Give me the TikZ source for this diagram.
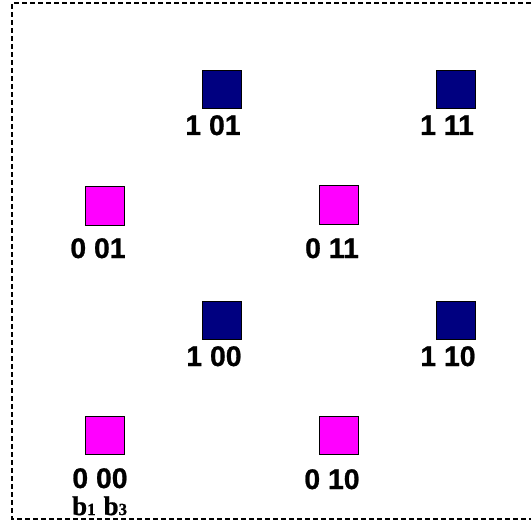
\documentclass[tikz,border=0pt]{standalone}
\usepackage{fontspec}
\setmainfont{Liberation Sans}[BoldFeatures={FakeBold=0.8}]
\newfontfamily\serifb{Liberation Serif}[BoldFeatures={FakeBold=1}]
\definecolor{pinkc}{HTML}{FF00FF}
\definecolor{navyc}{HTML}{000080}
\begin{document}
\begin{tikzpicture}[x=1bp,y=-1bp,
  sq/.style={draw=black, line width=1bp, minimum width=39bp, minimum height=38bp, inner sep=0pt, anchor=north west},
  pinksq/.style={sq, fill=pinkc},
  bluesq/.style={sq, fill=navyc},
  lab/.style={font=\bfseries\fontsize{28.5}{28.5}\selectfont, inner sep=0pt, anchor=base, text depth=0pt, text height=20bp},
  frame/.style={line width=1.6bp, dash pattern=on 5bp off 3bp}]
\useasboundingbox (0,0) rectangle (531,525);
\draw[frame] (531,3) -- (12,3) -- (12,519) -- (531,519);
% squares
\node[bluesq] (s101) at (201.5,70.5) {};
\node[bluesq] (s111) at (435.5,70.5) {};
\node[pinksq] (s001) at (84.5,186.5) {};
\node[pinksq] (s011) at (318.5,185.5) {};
\node[bluesq] (s100) at (201.5,300.5) {};
\node[bluesq] (s110) at (435.5,300.5) {};
\node[pinksq] (s000) at (84.5,415.5) {};
\node[pinksq] (s010) at (318.5,415.5) {};
% labels
\node[lab] (l101) at (213,135) {1 01};
\node[lab] (l111) at (447,135) {1 11};
\node[lab] (l001) at (98,258) {0 01};
\node[lab] (l011) at (332,258) {0 11};
\node[lab] (l100) at (214,366) {1 00};
\node[lab] (l110) at (448,366) {1 10};
\node[lab] (l000) at (100,488) {0 00};
\node[lab] (l010) at (332,489) {0 10};
\node[font=\serifb\bfseries\fontsize{27}{27}\selectfont, inner sep=0pt, anchor=base west, text height=18bp, text depth=0pt] (bb) at (72,515)
  {b{\fontsize{17}{17}\selectfont 1}\hspace{8bp}b{\fontsize{17}{17}\selectfont 3}};
\end{tikzpicture}
\end{document}
